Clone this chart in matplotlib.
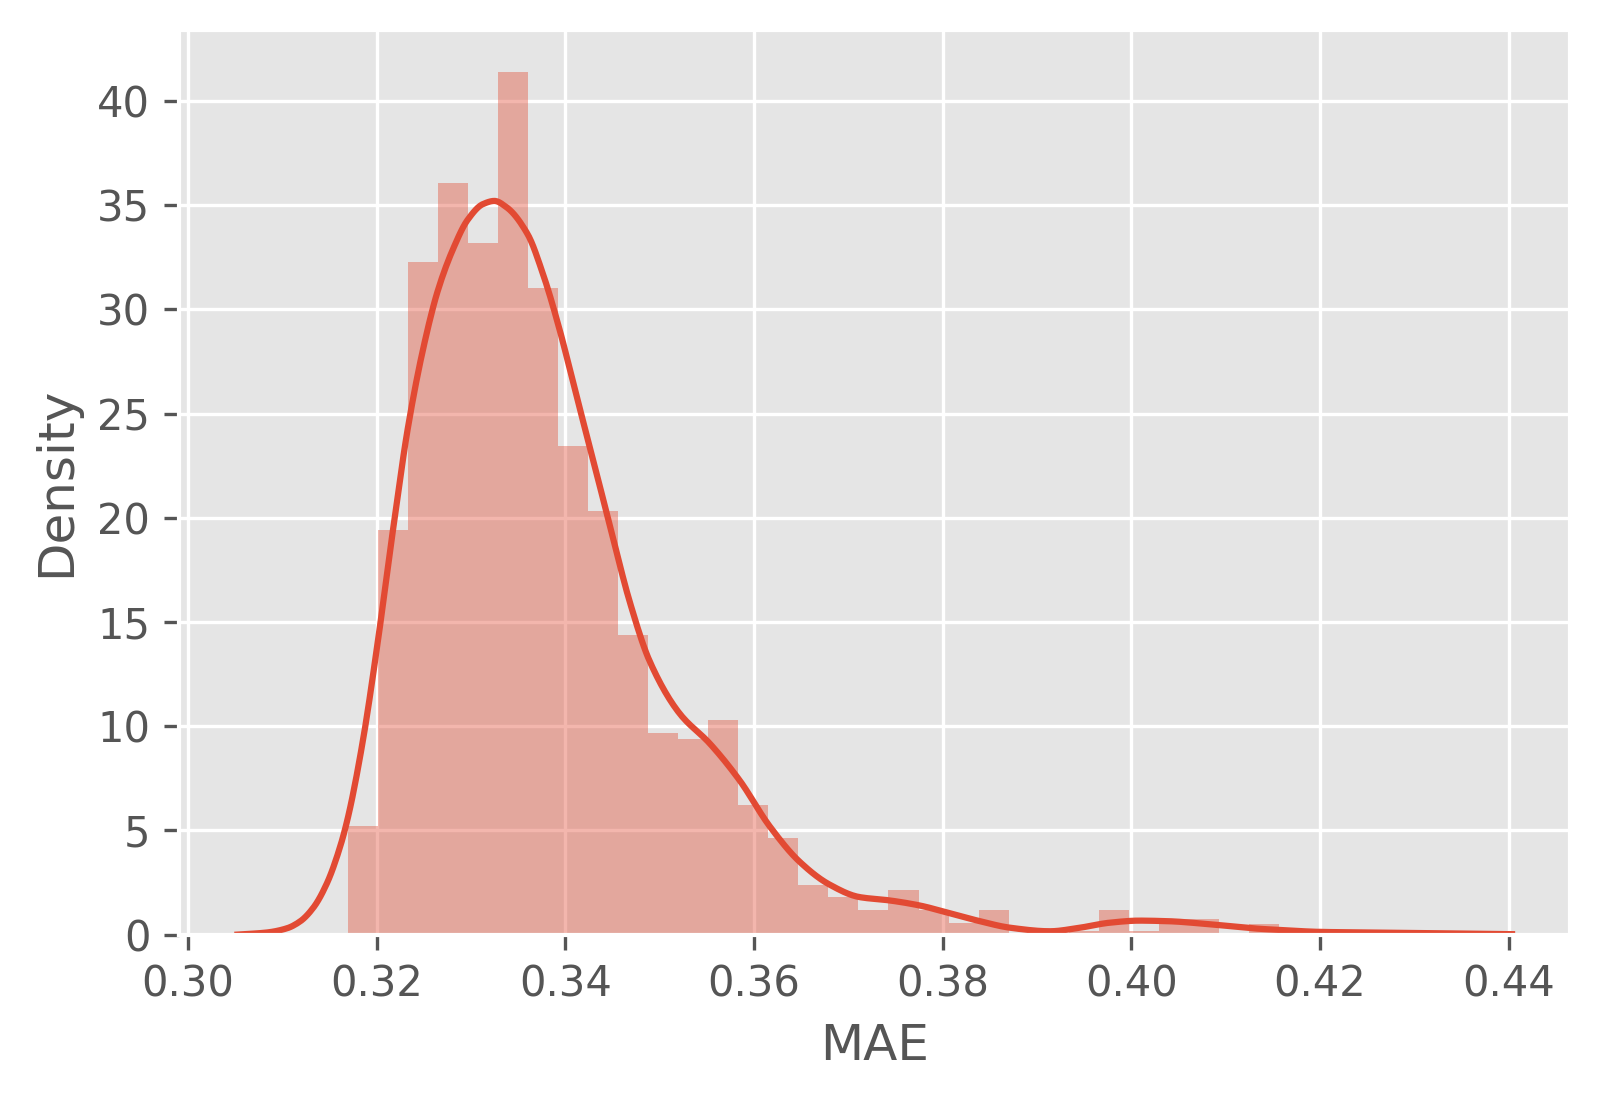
import matplotlib
matplotlib.use('Agg')
import matplotlib.pyplot as plt
import numpy as np

# Histogram (density): first edge + constant bin width
bin_start = 0.31693
bin_width = 0.003185
bar_heights = [5.22, 19.39, 32.27, 36.05, 33.2, 41.4, 31.02, 23.45, 20.33, 14.37,
               9.65, 9.36, 10.3, 6.2, 4.62, 2.4, 1.8, 1.16, 2.12, 1.16,
               0.54, 1.16, 0.0, 0.0, 0.19, 1.16, 0.19, 0.77, 0.77, 0.0,
               0.5, 0.0, 0.0, 0.0, 0.19]

# KDE curve
kde_x = [0.30525, 0.30836, 0.31048, 0.31188, 0.31329, 0.31471, 0.31612, 0.31700,
         0.31858, 0.32017, 0.32176, 0.32331, 0.32493, 0.32649, 0.32811, 0.32966,
         0.33128, 0.33249, 0.33376, 0.33601, 0.33763, 0.33929, 0.34116, 0.34293,
         0.34480, 0.34681, 0.34896, 0.35213, 0.35531, 0.35848, 0.36166, 0.36483,
         0.36801, 0.37118, 0.37436, 0.37753, 0.38071, 0.38398, 0.38714, 0.39137,
         0.39454, 0.39770, 0.40087, 0.40404, 0.40720, 0.41037, 0.41354, 0.41584,
         0.42000, 0.42535, 0.42990, 0.43500, 0.44036]
kde_y = [0.0, 0.1, 0.3, 0.63, 1.29, 2.44, 4.2, 5.7,
         9.4, 14.2, 19.5, 24.3, 28.1, 30.9, 32.9, 34.3,
         35.05, 35.2, 34.9, 33.6, 31.7, 29.2, 25.9, 22.8,
         19.5, 16.0, 13.1, 10.6, 9.17, 7.4, 5.2, 3.5,
         2.4, 1.8, 1.64, 1.4, 1.03, 0.64, 0.33, 0.16,
         0.33, 0.57, 0.67, 0.64, 0.54, 0.41, 0.28, 0.22,
         0.13, 0.1, 0.08, 0.05, 0.02]


def pchip(x, y, xs):
    # monotone cubic through the sampled points, just to draw them smoothly
    x = np.asarray(x); y = np.asarray(y)
    h = np.diff(x); d = np.diff(y) / h
    m = np.zeros_like(y)
    for k in range(1, len(x) - 1):
        if d[k - 1] * d[k] > 0:
            w1 = 2 * h[k] + h[k - 1]; w2 = h[k] + 2 * h[k - 1]
            m[k] = (w1 + w2) / (w1 / d[k - 1] + w2 / d[k])
    m[0] = d[0]; m[-1] = d[-1]
    i = np.clip(np.searchsorted(x, xs) - 1, 0, len(x) - 2)
    t = (xs - x[i]) / h[i]
    h00 = 2 * t**3 - 3 * t**2 + 1; h10 = t**3 - 2 * t**2 + t
    h01 = -2 * t**3 + 3 * t**2; h11 = t**3 - t**2
    return h00 * y[i] + h10 * h[i] * m[i] + h01 * y[i + 1] + h11 * h[i] * m[i + 1]


plt.style.use('ggplot')

fig = plt.figure(figsize=(1601 / 300, 1099 / 300), dpi=300)
ax = fig.add_axes([0.1121, 0.1496, 0.9806 - 0.1121, 0.9727 - 0.1496])

edges = bin_start + bin_width * np.arange(len(bar_heights))
ax.bar(edges, bar_heights, width=bin_width, align='edge',
       color='#E24A33', alpha=0.4, linewidth=0)

xs = np.linspace(kde_x[0], kde_x[-1], 600)
ax.plot(xs, pchip(kde_x, kde_y, xs), color='#E24A33', lw=1.5)

ax.set_xlim(0.2991, 0.4465)
ax.set_ylim(0, 43.4)
ax.set_xticks(np.arange(0.30, 0.441, 0.02))
ax.set_yticks(np.arange(0, 41, 5))
ax.set_xticklabels([f'{t:.2f}' for t in np.arange(0.30, 0.441, 0.02)])

ax.set_xlabel('MAE')
ax.set_ylabel('Density')

plt.savefig('out.png', dpi=300)
